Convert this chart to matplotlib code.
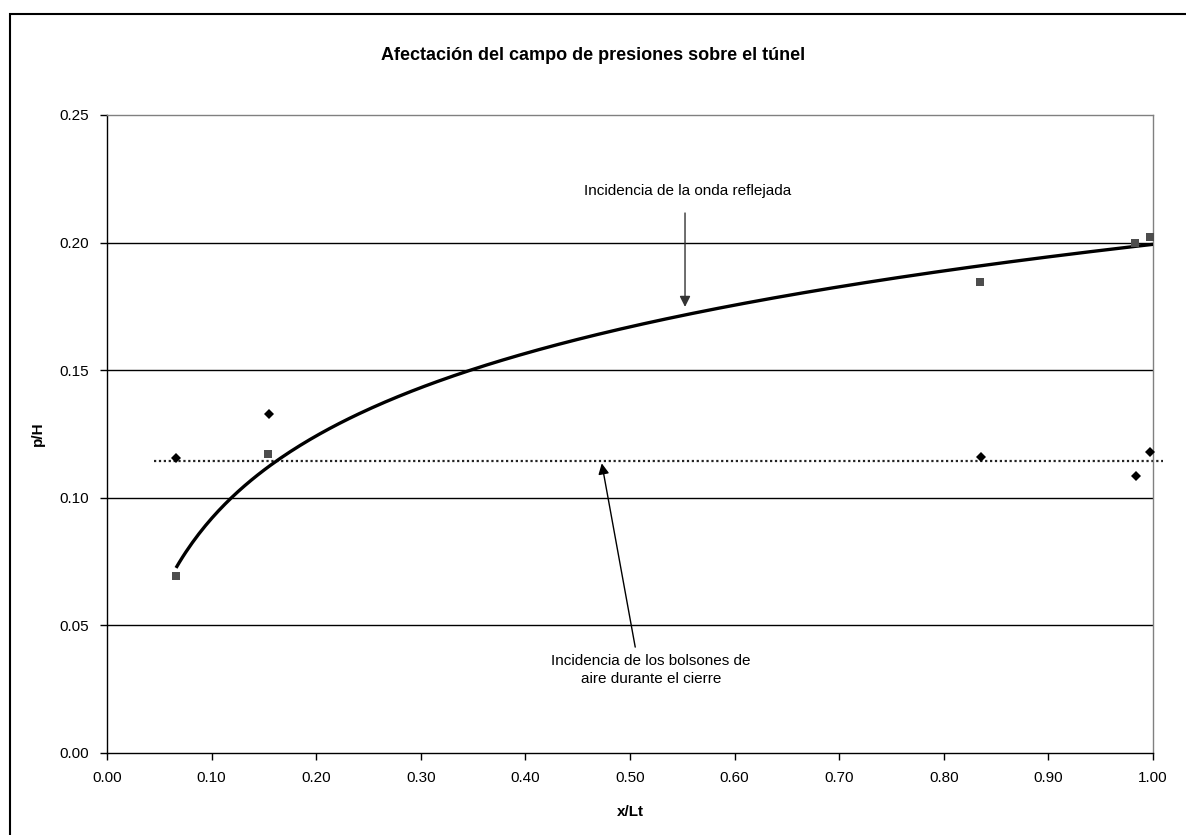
import matplotlib.pyplot as plt
import numpy as np
from matplotlib.patches import Rectangle

plt.rcParams['font.family'] = ['Liberation Sans', 'DejaVu Sans']

# squares: reflected wave series
xs_sq = [0.066, 0.154, 0.835, 0.983, 0.997]
ys_sq = [0.0694, 0.1172, 0.1846, 0.1998, 0.2022]
# diamonds: air pocket series
xs_di = [0.066, 0.155, 0.836, 0.984, 0.997]
ys_di = [0.1156, 0.133, 0.1158, 0.1085, 0.118]
# horizontal dotted level
level_y = 0.1145
level_x = [0.045, 1.01]

xticks = np.arange(0, 1.01, 0.1)
yticks = np.arange(0, 0.251, 0.05)

fig = plt.figure(figsize=(11.86, 8.35), dpi=100)
ax = fig.add_axes([107/1186, 1 - 753/835, (1153-107)/1186, (753-115)/835])

for y in yticks[1:-1]:
    ax.axhline(y, color='black', lw=1.0, zorder=1)

# log trendline fitted to the squares (Excel-style)
b, a = np.polyfit(np.log(xs_sq), ys_sq, 1)
xt = np.linspace(min(xs_sq), 1.0, 300)
ax.plot(xt, a + b*np.log(xt), color='black', lw=2.4, zorder=3, solid_capstyle='butt')

ax.plot(level_x, [level_y, level_y], color='#222222', lw=1.6, ls=(0, (1, 1.2)),
        zorder=2, clip_on=False)

ax.plot(xs_sq, ys_sq, 's', color='#4d4d4d', ms=6, mew=0, zorder=4, clip_on=False)
ax.plot(xs_di, ys_di, 'D', color='black', ms=5.5, mew=0, zorder=4, clip_on=False)

ax.set_xlim(0, 1)
ax.set_ylim(0, 0.25)
ax.set_xticks(xticks)
ax.set_yticks(yticks)
ax.set_xticklabels([f"{v:.2f}" for v in xticks])
ax.set_yticklabels([f"{v:.2f}" for v in yticks])
ax.tick_params(direction='out', length=5, width=1, labelsize=11, pad=8)

ax.spines['left'].set_color('black')
ax.spines['bottom'].set_color('black')
ax.spines['top'].set_color('#808080')
ax.spines['right'].set_color('#808080')
for s in ax.spines.values():
    s.set_linewidth(1.0)

ax.set_xlabel("x/Lt", fontsize=11, fontweight='bold', labelpad=14)
ax.set_ylabel("p/H", fontsize=11, fontweight='bold', labelpad=10)

fig.text(0.5, 1 - 55/835, "Afectación del campo de presiones sobre el túnel",
         ha='center', va='center', fontsize=13, fontweight='bold')

ax.text(0.555, 0.2202, "Incidencia de la onda reflejada", ha='center', va='center', fontsize=11)
ax.annotate("", xy=(0.5526, 0.1748), xytext=(0.5526, 0.2116),
            arrowprops=dict(arrowstyle='-|>', color='#333333', lw=1.0, mutation_scale=16,
                            shrinkA=0, shrinkB=0))

ax.annotate("", xy=(0.473, 0.1135), xytext=(0.505, 0.0415),
            arrowprops=dict(arrowstyle='-|>', color='black', lw=1.0, mutation_scale=16,
                            shrinkA=0, shrinkB=0))
ax.text(0.52, 0.0325, "Incidencia de los bolsones de\naire durante el cierre",
        ha='center', va='center', fontsize=11, linespacing=1.35)

fig.patches.append(Rectangle((10/1186, -0.1), 1.2, 1 - 14/835 + 0.1,
                             transform=fig.transFigure, fill=False, lw=1.5,
                             edgecolor='black'))

fig.savefig('out.png', dpi=100)
